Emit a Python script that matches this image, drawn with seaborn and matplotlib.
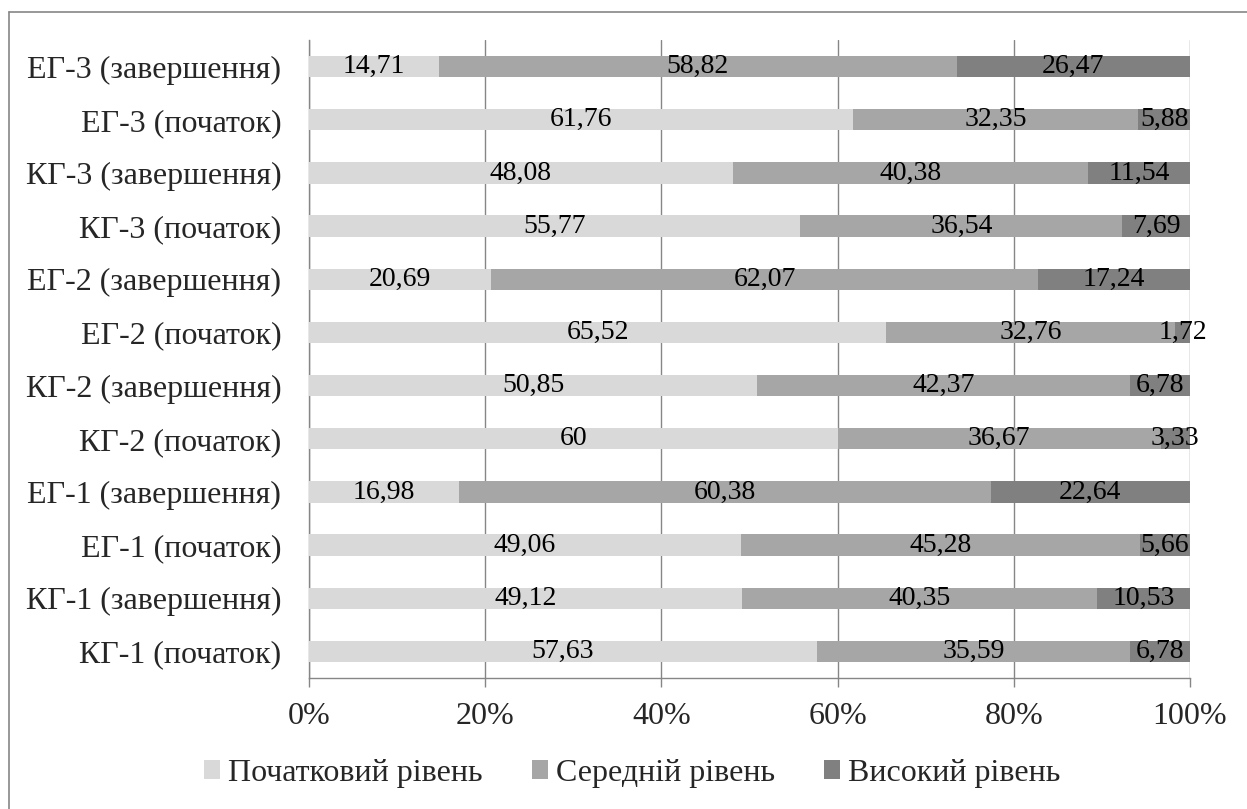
import matplotlib
matplotlib.use("Agg")
import matplotlib.pyplot as plt
import seaborn as sns
import pandas as pd
import numpy as np
from matplotlib.patches import Patch
from matplotlib.lines import Line2D

# data (top to bottom as in the picture)
groups = ['ЕГ-3 (завершення)', 'ЕГ-3 (початок)', 'КГ-3 (завершення)', 'КГ-3 (початок)',
          'ЕГ-2 (завершення)', 'ЕГ-2 (початок)', 'КГ-2 (завершення)', 'КГ-2 (початок)',
          'ЕГ-1 (завершення)', 'ЕГ-1 (початок)', 'КГ-1 (завершення)', 'КГ-1 (початок)']
low = [14.71, 61.76, 48.08, 55.77, 20.69, 65.52, 50.85, 60, 16.98, 49.06, 49.12, 57.63]
mid = [58.82, 32.35, 40.38, 36.54, 62.07, 32.76, 42.37, 36.67, 60.38, 45.28, 40.35, 35.59]
high = [26.47, 5.88, 11.54, 7.69, 17.24, 1.72, 6.78, 3.33, 22.64, 5.66, 10.53, 6.78]
series_names = ['Початковий рівень', 'Середній рівень', 'Високий рівень']
colors = ['#d9d9d9', '#a6a6a6', '#808080']

df = pd.DataFrame({'group': groups, 'low': low, 'mid': mid, 'high': high})
df['c1'] = df['low']
df['c2'] = df['low'] + df['mid']
df['c3'] = df['low'] + df['mid'] + df['high']

sns.set_style("white")
plt.rcParams['font.family'] = ['Liberation Serif', 'DejaVu Serif']
fs = 23      # axis + legend text
fs_val = 20  # numbers on the bars

fig = plt.figure(figsize=(12.47, 8.09), dpi=100)
ax = fig.add_axes([309 / 1247, 1 - 678 / 809, (1190 - 309) / 1247, (678 - 40) / 809])

# stacked bars drawn as overlapping cumulative bars
for col, c in zip(['c3', 'c2', 'c1'], colors[::-1]):
    sns.barplot(data=df, x=col, y='group', color=c, width=0.4, orient='h',
                saturation=1, ax=ax, zorder=3, linewidth=0)

# value labels in the middle of each segment
def fmt(v):
    s = ('%.2f' % v).rstrip('0').rstrip('.')
    return s.replace('.', ',')

for i in range(len(groups)):
    left = 0
    for v in [low[i], mid[i], high[i]]:
        ax.text(left + v / 2, i, fmt(v), ha='center', va='center', fontsize=fs_val,
                color='black', zorder=5)
        left += v

ax.set_xlim(0, 100)
ax.set_ylim(len(groups) - 0.5, -0.5)
ax.set_xticks([0, 20, 40, 60, 80, 100])
ax.set_xticklabels(['0%', '20%', '40%', '60%', '80%', '100%'], fontsize=fs)
ax.set_yticks(range(len(groups)))
ax.set_yticklabels(groups, fontsize=fs)
ax.set_yticks(np.arange(-0.5, len(groups)), minor=True)
ax.set_xlabel('')
ax.set_ylabel('')

ax.grid(axis='x', color='#868686', linewidth=1, zorder=0)
ax.grid(axis='y', visible=False)
for side in ['top', 'right']:
    ax.spines[side].set_visible(False)
for side in ['left', 'bottom']:
    ax.spines[side].set_color('#868686')
    ax.spines[side].set_linewidth(1)
ax.tick_params(axis='y', which='major', length=0, pad=20)
ax.tick_params(axis='y', which='minor', length=6, color='#868686', width=1)
ax.tick_params(axis='x', which='major', length=6.5, color='#868686', width=1, pad=11,
               bottom=True)

handles = [Patch(facecolor=c, edgecolor='none', label=n) for c, n in zip(colors, series_names)]
fig.legend(handles=handles, loc='center', bbox_to_anchor=(0.507, 0.044), ncol=3,
           frameon=False, fontsize=fs, handlelength=0.5, handleheight=0.5,
           handletextpad=0.25, columnspacing=1.55)

# outer frame (left and top edges visible)
fig.add_artist(Line2D([9 / 1247, 9 / 1247], [0, 1 - 12 / 809], transform=fig.transFigure,
                      color='#868686', linewidth=1.2))
fig.add_artist(Line2D([9 / 1247, 1], [1 - 12 / 809, 1 - 12 / 809], transform=fig.transFigure,
                      color='#868686', linewidth=1.2))

fig.savefig('out.png', dpi=100)
